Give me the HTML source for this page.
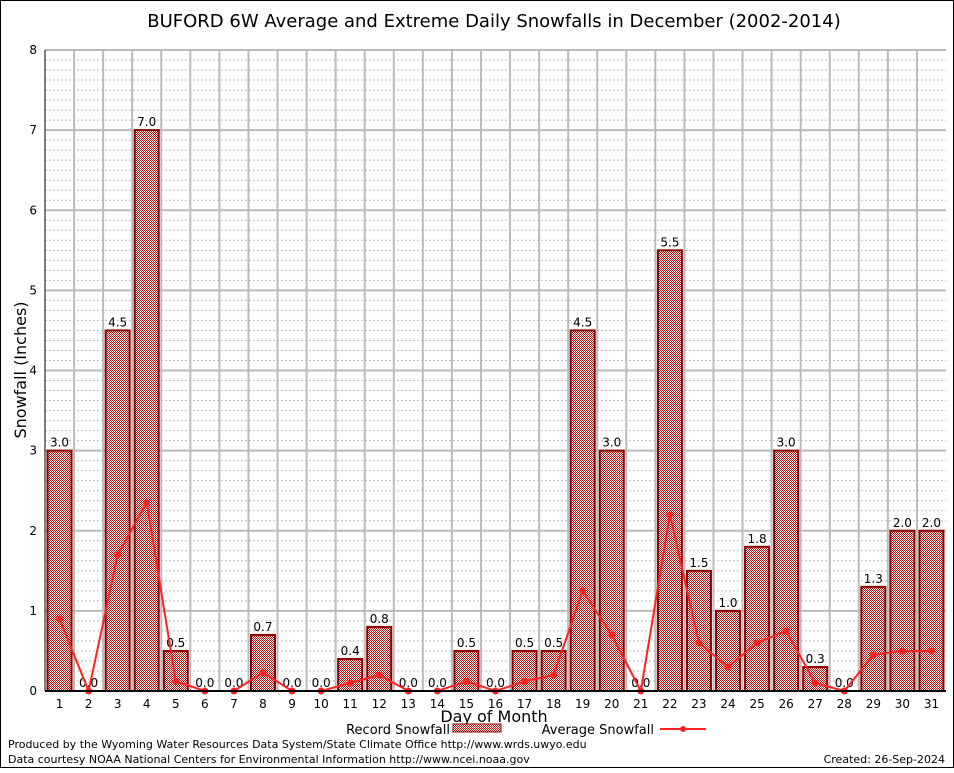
<!DOCTYPE html>
<html><head><meta charset="utf-8"><style>
body{margin:0;background:#fff}
svg text{font-family:"DejaVu Sans","Liberation Sans",sans-serif}
</style></head><body>
<svg id="c" width="954" height="768" xmlns="http://www.w3.org/2000/svg">
<defs>
<pattern id="hatch" width="2" height="2" patternUnits="userSpaceOnUse">
<rect width="2" height="2" fill="#fff"/>
<rect width="1" height="1" fill="#b01818"/>
<rect x="1" y="1" width="1" height="1" fill="#b01818"/>
</pattern>
</defs>
<rect x="0.5" y="0.5" width="953" height="767" fill="#fff" stroke="#000"/>
<text x="494" y="27" font-size="18" text-anchor="middle" font-family="Liberation Sans">BUFORD 6W Average and Extreme Daily Snowfalls in December (2002-2014)</text>
<g id="grid"></g><g id="bars"></g><g id="line"></g><g id="axes"></g>
<text x="26" y="370" font-size="16" text-anchor="middle" transform="rotate(-90 26 370)">Snowfall (Inches)</text>
<text x="494" y="722" font-size="16" text-anchor="middle">Day of Month</text>
<g>
<text x="450" y="734" font-size="13" text-anchor="end">Record Snowfall</text>
<rect x="453" y="724" width="48" height="8" fill="url(#hatch)" stroke="#8b0000"/>
<text x="654" y="734" font-size="13" text-anchor="end">Average Snowfall</text>
<line x1="660" y1="729" x2="706" y2="729" stroke="#f22" stroke-width="2"/>
<circle cx="683" cy="729" r="3" fill="#f22"/>
</g>
<text x="8" y="748" font-size="11">Produced by the Wyoming Water Resources Data System/State Climate Office http://www.wrds.uwyo.edu</text>
<text x="8" y="763" font-size="11">Data courtesy NOAA National Centers for Environmental Information http://www.ncei.noaa.gov</text>
<text x="945" y="763" font-size="11" text-anchor="end">Created: 26-Sep-2024</text>
</svg>
<script>
const days=[1,2,3,4,5,6,7,8,9,10,11,12,13,14,15,16,17,18,19,20,21,22,23,24,25,26,27,28,29,30,31];
const records=[3.0,0.0,4.5,7.0,0.5,0.0,0.0,0.7,0.0,0.0,0.4,0.8,0.0,0.0,0.5,0.0,0.5,0.5,4.5,3.0,0.0,5.5,1.5,1.0,1.8,3.0,0.3,0.0,1.3,2.0,2.0];
const averages=[0.9,0,1.7,2.35,0.12,0,0,0.23,0,0,0.1,0.2,0,0,0.12,0,0.12,0.2,1.25,0.7,0,2.2,0.6,0.3,0.6,0.75,0.1,0,0.45,0.5,0.5];
const yTicks=[0,1,2,3,4,5,6,7,8];
const NS="http://www.w3.org/2000/svg";
const L=45,R=946,T=50,B=691,slot=(R-L)/days.length;
const x=d=>L+(d-0.5)*slot;
const y=v=>B-(v/8)*(B-T);
function mk(tag,attrs,parent,txt){const e=document.createElementNS(NS,tag);for(const k in attrs)e.setAttribute(k,attrs[k]);if(txt!==undefined)e.textContent=txt;document.getElementById(parent).appendChild(e);return e;}
for(let i=0;i<=64;i++){const v=i/8;if(i%8===0)continue;
const g=mk('line',{x1:L,x2:R,y1:y(v),y2:y(v),stroke:'#bbb','stroke-dasharray':'2,2','stroke-width':1},'grid');

}
yTicks.forEach(v=>{const g=mk('line',{x1:L,x2:R,y1:y(v),y2:y(v),stroke:'#bbb','stroke-width':2},'grid');


const t=mk('text',{x:L-8,y:y(v)+4,'font-size':12,'text-anchor':'end','font-family':'Liberation Serif'},'axes',String(v));

});
for(let i=1;i<days.length;i++){const g=mk('line',{x1:L+i*slot,x2:L+i*slot,y1:T,y2:B,stroke:'#bbb','stroke-width':2},'grid');

}
days.forEach((d,i)=>{const v=records[i];
if(v>0){const b=mk('rect',{x:x(d)-12,y:y(v),width:24,height:B-y(v),fill:'url(#hatch)',stroke:'#8b0000','stroke-width':2},'bars');

}
const t=mk('text',{x:x(d),y:y(v)-4,'font-size':12,'text-anchor':'middle'},'bars',v.toFixed(1));


const xl=mk('text',{x:x(d),y:B+17,'font-size':12,'text-anchor':'middle','font-family':'Liberation Serif'},'axes',String(d));

});
const pl=mk('polyline',{points:days.map((d,i)=>x(d)+','+y(averages[i])).join(' '),fill:'none',stroke:'#f22','stroke-width':2},'line');


days.forEach((d,i)=>{const c=mk('circle',{cx:x(d),cy:y(averages[i]),r:3.5,fill:'#f22'},'line');

});
const ax=mk('line',{x1:L,x2:R,y1:B,y2:B,stroke:'#000','stroke-width':2},'axes');


const ay=mk('line',{x1:L,x2:L,y1:T,y2:B,stroke:'#000','stroke-width':1},'axes');


</script>
</body></html>
